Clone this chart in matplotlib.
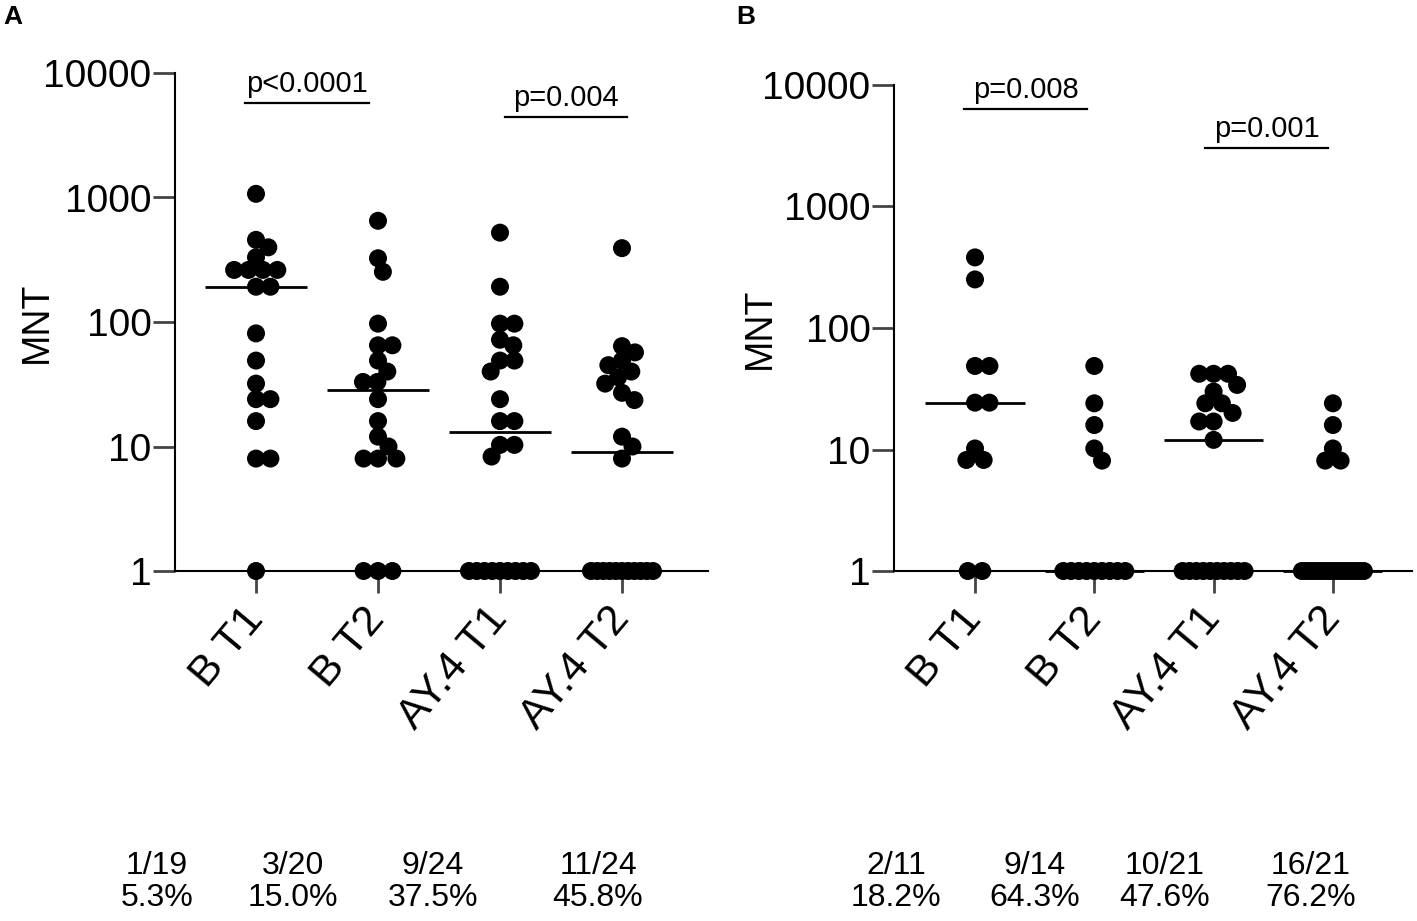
import numpy as np
import matplotlib
matplotlib.use('Agg')
import matplotlib.pyplot as plt

plt.rcParams['font.family'] = ['Liberation Sans', 'DejaVu Sans']

categories = ['B T1', 'B T2', 'AY.4 T1', 'AY.4 T2']

# Panel A values (MNT)
a_bt1 = [1070, 457, 398, 331, 262, 262, 262, 262, 192, 192, 81, 49, 32, 24, 24, 16, 8, 8, 1]
a_bt2 = [650, 325, 253, 97, 65, 65, 49, 40, 33, 33, 24, 16, 12, 10, 8, 8, 8, 1, 1, 1]
a_ay1 = [522, 192, 97, 97, 72, 65, 49, 49, 40, 24, 16, 16, 10.3, 10.3, 8.3,
         1, 1, 1, 1, 1, 1, 1, 1, 1]
a_ay2 = [392, 64, 57, 49, 45, 40, 36, 32, 27, 23.6, 12, 10, 8,
         1, 1, 1, 1, 1, 1, 1, 1, 1, 1, 1]

# Panel B values (MNT)
b_bt1 = [381, 251, 48.7, 48.7, 24.3, 24.3, 10.2, 8.2, 8.2, 1, 1]
b_bt2 = [48.7, 24, 15.9, 10.2, 8.1, 1, 1, 1, 1, 1, 1, 1, 1, 1]
b_ay1 = [42, 42, 42, 34, 30, 24, 24, 20, 17, 17, 12,
         1, 1, 1, 1, 1, 1, 1, 1, 1, 1]
b_ay2 = [24, 15.9, 10.2, 8.1, 8.1,
         1, 1, 1, 1, 1, 1, 1, 1, 1, 1, 1, 1, 1, 1, 1, 1]

# significance bars: (x start, x end, y level, label)
a_bars = [(-0.09, 0.93, 5740, 'p<0.0001'), (2.04, 3.04, 4430, 'p=0.004')]
b_bars = [(-0.09, 0.94, 6340, 'p=0.008'), (1.93, 2.96, 3030, 'p=0.001')]

a_frac = ['1/19', '3/20', '9/24', '11/24']
a_pct = ['5.3%', '15.0%', '37.5%', '45.8%']
b_frac = ['2/11', '9/14', '10/21', '16/21']
b_pct = ['18.2%', '64.3%', '47.6%', '76.2%']

W, H = 1417, 921
fig = plt.figure(figsize=(W / 100, H / 100), dpi=100)


def px_axes(l, r, t, b):
    return fig.add_axes([l / W, 1 - b / H, (r - l) / W, (b - t) / H])


axA = px_axes(175, 708, 73, 571)
axB = px_axes(894, 1412, 85, 571)

DIAM = 18.0  # marker diameter in px


def swarm_x(ax, xc, vals, cap_px=62):
    vals = np.asarray(vals, float)
    pts = ax.transData.transform(np.column_stack([np.full(len(vals), xc), vals]))
    ypx = pts[:, 1]
    x0 = pts[0, 0]
    offs = np.zeros(len(vals))
    D = 0.8 * DIAM
    floor_idx = np.where(vals == 1)[0]
    other = np.where(vals != 1)[0]
    order = other[np.argsort(-vals[other], kind='stable')]
    placed = []
    for i in order:
        y = ypx[i]
        cands = [0.0]
        for j in placed:
            dy = y - ypx[j]
            if abs(dy) < D:
                dx = np.sqrt(D * D - dy * dy)
                cands += [offs[j] + dx, offs[j] - dx]
        cands = sorted(cands, key=abs)
        for c in cands:
            if all((c - offs[j]) ** 2 + (y - ypx[j]) ** 2 >= D * D - 1e-6 for j in placed):
                offs[i] = c
                break
        placed.append(i)
    k = len(floor_idx)
    if k > 1:
        spread = min((k - 1) * D, cap_px)
        offs[floor_idx] = np.linspace(-spread / 2, spread / 2, k)
    xs = ax.transData.inverted().transform(np.column_stack([x0 + offs, ypx]))[:, 0]
    return xs


def draw_panel(ax, groups, xlim, bars, med_half):
    ax.set_yscale('log')
    ax.set_ylim(1, 10000)
    ax.set_xlim(*xlim)
    for sp in ['top', 'right']:
        ax.spines[sp].set_visible(False)
    for sp in ['left', 'bottom']:
        ax.spines[sp].set_linewidth(1.5)
        ax.spines[sp].set_color('black')
    ax.set_yticks([1, 10, 100, 1000, 10000])
    ax.set_yticklabels(['1', '10', '100', '1000', '10000'])
    ax.yaxis.set_minor_locator(matplotlib.ticker.NullLocator())
    ax.tick_params(axis='y', direction='out', length=16, width=2, color='#444444',
                   labelsize=28, pad=1)
    ax.set_xticks(range(len(categories)))
    ax.set_xticklabels(categories, rotation=50, ha='right', va='center',
                       rotation_mode='anchor')
    ax.tick_params(axis='x', direction='out', length=16, width=2, color='#444444',
                   labelsize=31, pad=14)
    for i, vals in enumerate(groups):
        xs = swarm_x(ax, i, vals)
        ax.scatter(xs, vals, s=(DIAM / 1.3889) ** 2, color='black', edgecolors='none',
                   zorder=3, clip_on=False)
        med = np.median(vals)
        ax.plot([i - med_half, i + med_half], [med, med], color='black', lw=2,
                solid_capstyle='butt', zorder=4, clip_on=False)
    for x0, x1, yv, lab in bars:
        ax.plot([x0, x1], [yv, yv], color='black', lw=1.6, clip_on=False)
        ax.annotate(lab, xy=((x0 + x1) / 2, yv), xytext=(0, 8), textcoords='offset points',
                    ha='center', va='baseline', fontsize=21, annotation_clip=False)
    ax.set_ylabel('MNT', fontsize=27)
    ax.yaxis.set_label_coords(-0.225, 0.5)


draw_panel(axA, [a_bt1, a_bt2, a_ay1, a_ay2], (-0.664, 3.705), a_bars, 0.42)
draw_panel(axB, [b_bt1, b_bt2, b_ay1, b_ay2], (-0.679, 3.663), b_bars, 0.415)

a_xpos = [157, 293, 433, 598]
b_xpos = [896, 1035, 1165, 1311]
for xs, fr, pc in [(a_xpos, a_frac, a_pct), (b_xpos, b_frac, b_pct)]:
    for x, f, p in zip(xs, fr, pc):
        fig.text(x / W, 1 - 866 / H, f, ha='center', va='center', fontsize=23)
        fig.text(x / W, 1 - 898 / H, p, ha='center', va='center', fontsize=23)

fig.text(3 / W, 1 - 24 / H, 'A', fontsize=19, fontweight='bold', va='baseline')
fig.text(736 / W, 1 - 24 / H, 'B', fontsize=19, fontweight='bold', va='baseline')

fig.savefig('out.png', dpi=100, facecolor='white')
